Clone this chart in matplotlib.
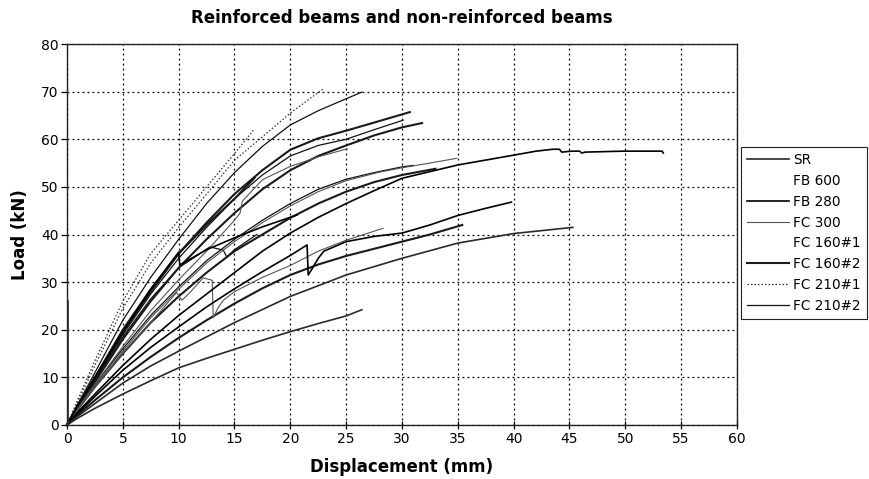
import matplotlib
matplotlib.use("Agg")
import matplotlib.pyplot as plt
from matplotlib.lines import Line2D

# ---------------- data ----------------
series_names = ["SR", "FB 600", "FB 280", "FC 300", "FC 160#1", "FC 160#2", "FC 210#1", "FC 210#2"]

x_ticks = [0, 5, 10, 15, 20, 25, 30, 35, 40, 45, 50, 55, 60]
y_ticks = [0, 10, 20, 30, 40, 50, 60, 70, 80]

# FC 210#1 (dotted)
d2_x = [0, 1, 2.5, 5, 7.5, 10, 12.5, 15, 16.8]
d2_y = [0, 5.5, 13.5, 26, 36, 43, 50, 57, 62.2]
d1_x = [0, 1, 2.5, 5, 7.5, 10, 12.5, 15, 17.5, 20, 22.9]
d1_y = [0, 5, 12.5, 24.5, 34, 41.5, 48.5, 55.6, 60.5, 65.5, 70.5]

# FC 210#2 (thin solid)
s70_x = [0, 1, 2.5, 5, 7.5, 10, 12.5, 15, 17.5, 20, 22.5, 25, 26.4]
s70_y = [0, 4.5, 11, 22, 31, 39, 46.5, 53, 58.5, 63, 66, 68.5, 69.9]
c2_x = [0, 1, 2.5, 5, 7.5, 10, 12.5, 15, 17.5, 20, 22.5, 25, 27.5, 30.1]
c2_y = [0, 4, 9.5, 19, 27.5, 35, 41.5, 47.5, 52.5, 56.5, 58.7, 60, 62, 64]
m5_x = [0, 1, 2.5, 5, 7.5, 10, 12.5, 15, 17.5, 20, 22.5, 25, 27.5, 30, 31]
m5_y = [0, 3.6, 8.5, 16, 23, 29, 34.5, 39, 43, 46.5, 49.5, 51.6, 53, 54.2, 54.5]
b1_x = [0, 1, 2.5, 5, 7.5, 10, 12.8, 14, 14.3, 15, 17]
b1_y = [0, 4, 9.5, 18.5, 26.5, 33, 37.4, 36.7, 35.3, 36.8, 40]

# FC 160#2 (heavier solid)
c1_x = [0, 1, 2.5, 5, 7.5, 10, 12.5, 15, 17.5, 20, 22.5, 25, 27.5, 30.7]
c1_y = [0, 4.2, 10, 20, 28.5, 36, 42.5, 48.5, 53.5, 57.8, 60.2, 61.8, 63.5, 65.7]
c3_x = [0, 1, 2.5, 5, 7.5, 10, 12.5, 15, 17.5, 20, 22.5, 25, 27.5, 30, 31.8]
c3_y = [0, 3.8, 9, 18, 26, 33, 39, 44.5, 49.5, 53.5, 56.5, 58.7, 60.8, 62.5, 63.4]
e17_x = [0, 1, 2.5, 5, 7.5, 10, 12.5, 15, 16.8]
e17_y = [0, 4.3, 10, 19.5, 28, 36, 42, 47.5, 51.9]
m3_x = [0, 1, 2.5, 5, 7.5, 10, 12.5, 15, 17.5, 20, 22.5, 25, 27.5, 30, 33]
m3_y = [0, 3.4, 8, 15, 21.5, 27, 32, 36.5, 40, 43.5, 46.5, 49, 51, 52.5, 53.8]
l3_x = [0, 1, 2.5, 5, 7.5, 10, 12.5, 15, 17.5, 20, 22.5, 25, 27.5, 30, 32.5, 35.4]
l3_y = [0, 2.2, 5.2, 10, 14.3, 18.3, 22, 25.5, 28.7, 31.5, 33.7, 35.5, 37, 38.5, 40, 42]

# FC 300 (thin grey)
c4_x = [0, 1, 2.5, 5, 7.5, 10, 12.5, 15, 15.5, 15.7, 17.5, 20, 22.5, 25.1]
c4_y = [0, 3.6, 8.5, 16.5, 24, 30.5, 36.5, 43, 44.5, 47, 51.5, 54.3, 56.3, 58]
m1_x = [0, 1, 2.5, 5, 7.5, 10, 12.5, 15, 17.5, 20, 22.5, 25, 28, 30, 32.5, 34.9]
m1_y = [0, 3.4, 8, 15.5, 22.5, 28.5, 34, 38.5, 42.5, 46, 49, 51.3, 53.1, 54, 55, 56]
l1_x = [0, 1, 2.5, 5, 7.5, 9.8, 10.3, 11, 12.2, 13, 13.1, 13.5, 14, 15, 17.5, 20, 22.5, 25, 28.3]
l1_y = [0, 3.4, 8, 15, 21.5, 27.8, 26.2, 27.8, 30.9, 30.4, 22.5, 24.5, 26.2, 28, 31, 33.5, 36.5, 38.8, 41.3]

# FB 280 (black solid)
f280_x = [0, 1, 2.5, 5, 7.5, 10, 10.1, 11, 12.5, 15, 17.5, 20.6]
f280_y = [0, 4.2, 10, 19.5, 28.5, 36.3, 33.6, 34.8, 36.8, 39.3, 41.6, 44.1]
m2_x = [0, 1, 2.5, 5, 7.5, 10, 12.5, 15, 17.5, 20, 22.5, 25, 27.5, 30, 35, 40.1,
        42, 43.5, 44.1, 44.3, 45.2, 45.9, 46.1, 46.4, 49.8, 53.3, 53.4]
m2_y = [0, 2.8, 6.5, 12.5, 18, 23, 27.5, 32, 36.5, 40.3, 43.6, 46.5, 49.2, 51.8, 54.6, 56.7,
        57.5, 57.9, 57.9, 57.3, 57.5, 57.5, 57.1, 57.3, 57.5, 57.5, 57.1]
l2_x = [0, 1, 2.5, 5, 7.5, 10, 12.5, 15, 17.5, 20, 21.5, 21.6, 22, 22.5, 23, 25, 27.5,
        30, 32.5, 35, 37.5, 39.8]
l2_y = [0, 2.5, 6, 11.5, 16.3, 20.6, 24.8, 28.6, 32.2, 35.6, 37.8, 31.5, 33, 35, 36.5, 38.5, 39.6,
        40.3, 42, 44, 45.5, 46.8]

# SR
a45_x = [0, 1, 2.5, 5, 7.5, 10, 15, 20, 25, 30, 35, 40, 45.3]
a45_y = [0, 1.9, 4.5, 8.8, 12.4, 15.5, 21.5, 27, 31.5, 35, 38.2, 40.2, 41.5]
low_x = [0, 1, 2.5, 5, 7.5, 10, 12.5, 15, 17.5, 20, 22.5, 25, 26.4]
low_y = [0, 1.5, 3.5, 6.5, 9.3, 12, 14, 15.9, 17.8, 19.6, 21.3, 22.9, 24.2]
spike_x = [0.05, 0.05]
spike_y = [0, 26]

# ---------------- styles ----------------
styles = {
    "SR":       dict(color="#2a2a2a", lw=1.2, ls="-"),
    "FB 600":   dict(color="none", lw=1.0, ls="-"),
    "FB 280":   dict(color="#000000", lw=1.2, ls="-"),
    "FC 300":   dict(color="#555555", lw=0.8, ls="-"),
    "FC 160#1": dict(color="none", lw=1.0, ls="-"),
    "FC 160#2": dict(color="#1a1a1a", lw=1.5, ls="-"),
    "FC 210#1": dict(color="#333333", lw=0.9, ls=(0, (1.2, 1.6))),
    "FC 210#2": dict(color="#111111", lw=0.9, ls="-"),
}

curves = [
    ("FC 210#1", d2_x, d2_y), ("FC 210#1", d1_x, d1_y),
    ("FC 210#2", s70_x, s70_y), ("FC 210#2", c2_x, c2_y),
    ("FC 210#2", m5_x, m5_y), ("FC 210#2", b1_x, b1_y),
    ("FC 160#2", c1_x, c1_y), ("FC 160#2", c3_x, c3_y),
    ("FC 160#2", e17_x, e17_y), ("FC 160#2", m3_x, m3_y),
    ("FC 160#2", l3_x, l3_y),
    ("FC 300", c4_x, c4_y), ("FC 300", m1_x, m1_y), ("FC 300", l1_x, l1_y),
    ("FB 280", f280_x, f280_y), ("FB 280", m2_x, m2_y), ("FB 280", l2_x, l2_y),
    ("SR", a45_x, a45_y), ("SR", low_x, low_y), ("SR", spike_x, spike_y),
]

# ---------------- figure ----------------
fig = plt.figure(figsize=(8.7, 4.79), dpi=100)
ax = fig.add_axes([67 / 870, 54 / 479, 670 / 870, 381 / 479])

for name, xs, ys in curves:
    st = styles[name]
    ax.plot(xs, ys, color=st["color"], lw=st["lw"], ls=st["ls"],
            solid_joinstyle="round", zorder=3, clip_on=False)

ax.set_xlim(0, 60)
ax.set_ylim(0, 80)
ax.set_xticks(x_ticks)
ax.set_yticks(y_ticks)
ax.grid(True, color="black", lw=0.9, ls=(0, (1.5, 2.5)))
ax.set_axisbelow(True)
for sp in ax.spines.values():
    sp.set_color("#222222")
    sp.set_linewidth(1.0)
ax.tick_params(axis="x", direction="inout", length=6, width=0.9, labelsize=10, pad=2)
ax.tick_params(axis="y", direction="out", length=4, width=0.9, labelsize=10, pad=2)

ax.set_title("Reinforced beams and non-reinforced beams", fontsize=12,
             fontweight="bold", pad=15)
ax.set_xlabel("Displacement (mm)", fontsize=12, fontweight="bold", labelpad=9)
ax.set_ylabel("Load (kN)", fontsize=12, fontweight="bold", labelpad=9)

handles = [Line2D([0], [0], color=styles[n]["color"], lw=styles[n]["lw"],
                  ls=styles[n]["ls"]) for n in series_names]
leg = fig.legend(handles, series_names, loc="upper left",
                 bbox_to_anchor=(741 / 870, 1 - 147 / 479),
                 fontsize=9.8, frameon=True, fancybox=False, framealpha=1,
                 edgecolor="#222222", handlelength=3.1, handletextpad=0.3,
                 labelspacing=0.5, borderpad=0.45, borderaxespad=0)
leg.get_frame().set_linewidth(0.8)

fig.savefig("out.png", dpi=100)
